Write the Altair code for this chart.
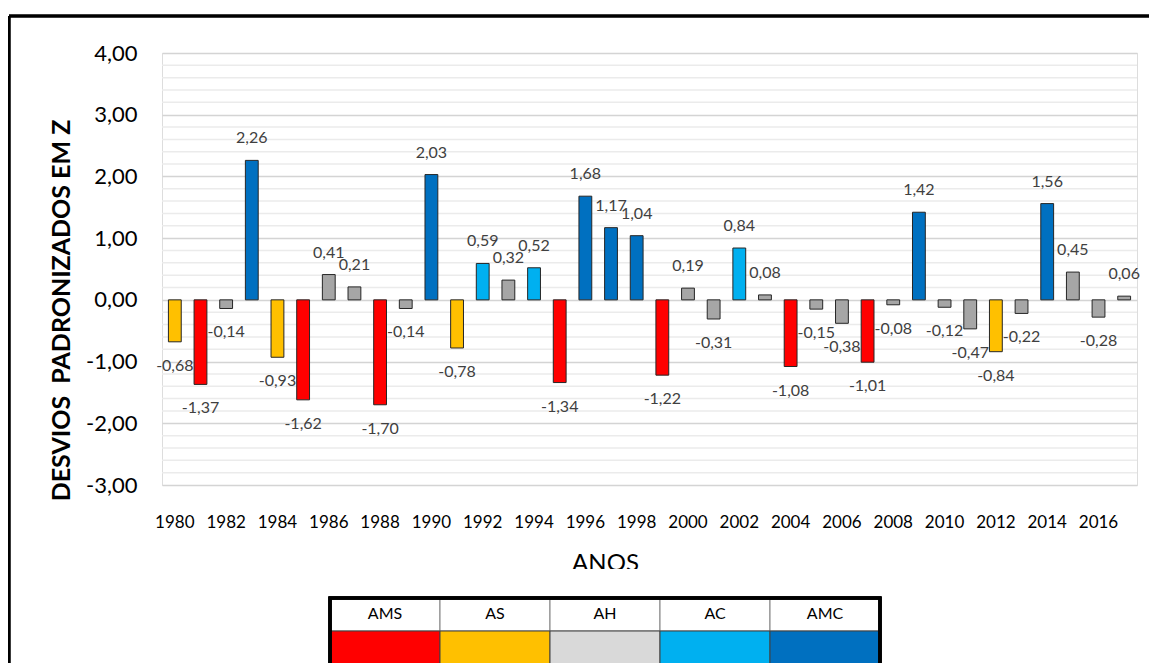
import altair as alt
import pandas as pd

years = list(range(1980, 2018))
values = [-0.68, -1.37, -0.14, 2.26, -0.93, -1.62, 0.41, 0.21, -1.70, -0.14,
          2.03, -0.78, 0.59, 0.32, 0.52, -1.34, 1.68, 1.17, 1.04, -1.22,
          0.19, -0.31, 0.84, 0.08, -1.08, -0.15, -0.38, -1.01, -0.08, 1.42,
          -0.12, -0.47, -0.84, -0.22, 1.56, 0.45, -0.28, 0.06]
classes = ["AS", "AMS", "AH", "AMC", "AS", "AMS", "AH", "AH", "AMS", "AH",
           "AMC", "AS", "AC", "AH", "AC", "AMS", "AMC", "AMC", "AMC", "AMS",
           "AH", "AH", "AC", "AH", "AMS", "AH", "AH", "AMS", "AH", "AMC",
           "AH", "AH", "AS", "AH", "AMC", "AH", "AH", "AH"]

cats = ["AMS", "AS", "AH", "AC", "AMC"]
bar_colors = ["#FF0000", "#FFC000", "#A6A6A6", "#00B0F0", "#0070C0"]
legend_colors = ["#FF0000", "#FFC000", "#D9D9D9", "#00B0F0", "#0070C0"]

y_major = [-3, -2, -1, 0, 1, 2, 3, 4]
y_minor = [round(-3 + 0.2 * i, 1) for i in range(36) if i % 5 != 0]
x_label_years = [y for y in years if y % 2 == 0]

FONT = "Lato"
W, H = 975, 432

df = pd.DataFrame({"year": years, "v": values, "cls": classes})
legend_df = pd.DataFrame({"cat": cats, "col": legend_colors})
minor_df = pd.DataFrame({"g": y_minor})

yscale = alt.Scale(domain=[-3, 4], nice=False, zero=False)
xscale = alt.Scale(paddingInner=0.5, paddingOuter=0.25)

label_expr = "replace(replace(format(datum.v, '.2f'), '.', ','), '\u2212', '-')"

minor = alt.Chart(minor_df).mark_rule(color="#EBEBEB", strokeWidth=1.5).encode(
    y=alt.Y("g:Q", scale=yscale)
)

bars = alt.Chart(df).mark_bar(stroke="#262626", strokeWidth=1).encode(
    x=alt.X("year:O", scale=xscale,
            axis=alt.Axis(values=x_label_years, title="ANOS", labelAngle=0,
                          ticks=False, domain=False, labelPadding=29,
                          labelFont=FONT, labelFontSize=17, labelColor="#000000",
                          titleFont=FONT, titleFontSize=24, titleFontWeight="normal",
                          titleColor="#000000", titleX=443, titleY=85,
                          titleBaseline="alphabetic", zindex=0)),
    y=alt.Y("v:Q", scale=yscale,
            axis=alt.Axis(values=y_major, title="DESVIOS\u00a0 PADRONIZADOS EM Z",
                          labelExpr="replace(replace(format(datum.value, '.2f'), '.', ','), '\u2212', '-')",
                          ticks=False, domain=False, labelPadding=25,
                          labelFont=FONT, labelFontSize=22, labelColor="#000000",
                          titleFont=FONT, titleFontSize=25, titleFontWeight="bold",
                          titleColor="#000000", titlePadding=11, titleY=257,
                          grid=True, gridColor="#D4D4D4", gridWidth=1.5, zindex=0)),
    color=alt.Color("cls:N", scale=alt.Scale(domain=cats, range=bar_colors), legend=None),
)

pos_labels = alt.Chart(df).transform_filter("datum.v >= 0").transform_calculate(
    lab=label_expr
).mark_text(font=FONT, fontSize=16, color="#404040", baseline="middle", dy=-22).encode(
    x=alt.X("year:O", scale=xscale), y=alt.Y("v:Q", scale=yscale), text="lab:N"
)
neg_labels = alt.Chart(df).transform_filter("datum.v < 0").transform_calculate(
    lab=label_expr
).mark_text(font=FONT, fontSize=16, color="#404040", baseline="middle", dy=24).encode(
    x=alt.X("year:O", scale=xscale), y=alt.Y("v:Q", scale=yscale), text="lab:N"
)

main = alt.layer(minor, bars, pos_labels, neg_labels)

# white band that cuts the bottom of the x-axis title, as in the reference
cover = alt.Chart(legend_df).mark_rect(fill="white").encode(
    x=alt.value(380), x2=alt.value(520), y=alt.value(516), y2=alt.value(540)
)

lx = alt.Scale(domain=cats, range=[168, 718], paddingInner=0, paddingOuter=0)
leg_head = alt.Chart(legend_df).mark_rect(fill="white", stroke="#808080", strokeWidth=1).encode(
    x=alt.X("cat:N", scale=lx, axis=None), y=alt.value(545), y2=alt.value(578)
)
leg_color = alt.Chart(legend_df).mark_rect(stroke="#404040", strokeWidth=1).encode(
    x=alt.X("cat:N", scale=lx, axis=None), y=alt.value(578), y2=alt.value(611),
    fill=alt.Fill("col:N", scale=None)
)
leg_text = alt.Chart(legend_df).mark_text(font=FONT, fontSize=16, color="#000000",
                                          baseline="middle").encode(
    x=alt.X("cat:N", scale=lx, axis=None, bandPosition=0.5), y=alt.value(561),
    text="cat:N"
)
leg_frame = alt.Chart(legend_df).mark_rect(fill=None, stroke="#000000", strokeWidth=3).encode(
    x=alt.value(168), x2=alt.value(718), y=alt.value(545), y2=alt.value(612)
)
legend = alt.layer(cover, leg_head, leg_color, leg_text, leg_frame)

frame_top = alt.Chart(legend_df).mark_rule(color="#000000", strokeWidth=2.5).encode(
    x=alt.value(-153), x2=alt.value(1200), y=alt.value(-37)
)
frame_left = alt.Chart(legend_df).mark_rule(color="#000000", strokeWidth=2.5).encode(
    x=alt.value(-153), y=alt.value(-37), y2=alt.value(700)
)

chart = alt.layer(main, legend, frame_top, frame_left).resolve_scale(
    x="independent"
).properties(
    width=W, height=H,
    autosize=alt.AutoSizeParams(type="none"),
    padding={"left": 154, "top": 45, "right": 12, "bottom": 178},
).configure_view(stroke=None).configure(background="white")

chart.save("out.html", embed_options={"renderer": "svg", "actions": False})
